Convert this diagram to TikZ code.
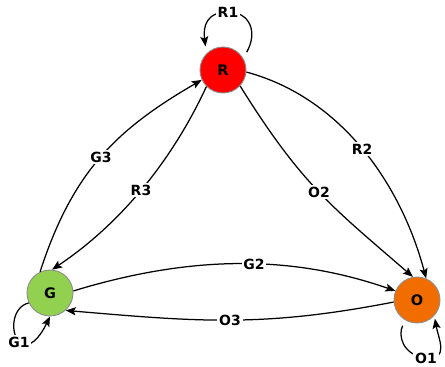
\documentclass[tikz,border=0pt]{standalone}
\usepackage{fontspec}
\setmainfont{DejaVu Sans}
\usetikzlibrary{arrows.meta}
\definecolor{rred}{HTML}{FF0000}
\definecolor{ggreen}{HTML}{92D050}
\definecolor{oorange}{HTML}{F26D00}
\definecolor{rim}{HTML}{8C8C8C}
\begin{document}
\begin{tikzpicture}[x=1pt,y=1pt,
  state/.style={circle,draw=rim,line width=0.9pt,minimum size=46pt,inner sep=0pt,
    font=\fontsize{14.5}{16}\selectfont\bfseries},
  lbl/.style={fill=white,inner sep=1.8pt,font=\fontsize{14}{16}\selectfont\bfseries},
  arr/.style={line width=1.25pt,-{Stealth[length=10pt,width=8pt,inset=2pt]}}]
\useasboundingbox (0,0) rectangle (445,367);
\node[state,fill=rred] (R) at (223,297) {R};
\node[state,fill=ggreen] (G) at (50,74) {G};
\node[state,fill=oorange] (O) at (417,67) {O};
% G3
\draw[arr] (G.115) .. controls (72.6,195.3) and (116.1,237.4) .. (R.205) node[lbl,midway] (lG3) {G3};
% R3
\draw[arr] (R.225) .. controls (171.0,204.1) and (118.8,142.0) .. (G.85) node[lbl,midway] (lR3) {R3};
% R2
\draw[arr] (R.355) .. controls (340.5,269.6) and (400.7,184) .. (O.67) node[lbl,midway] (lR2) {R2};
% O2
\draw[arr] (R.317) .. controls (301.5,182.6) and (331.6,160.4) .. (O.100) node[lbl,midway] (lO2) {O2};
% G2
\draw[arr] (G.5) .. controls (211.5,118.3) and (309.6,105.7) .. (O.157) node[lbl,midway] (lG2) {G2};
% O3
\draw[arr] (O.185) .. controls (262.4,39.4) and (197.8,45.3) .. (G.312) node[lbl,midway] (lO3) {O3};
% R1 loop
\draw[arr,shorten <=7pt,shorten >=7pt] (R.30) .. controls (258,335) and (250,355) .. (228,355) node[lbl] (lR1) {R1}
  .. controls (206,355) and (203,340) .. (R.135);
% G1 loop
\draw[arr] (G.205) .. controls (12,60) and (10,35) .. (19,25) node[lbl] (lG1) {G1}
  .. controls (30,17) and (40,30) .. (G.270);
% O1 loop
\draw[arr,shorten <=6pt,shorten >=3pt] (O.240) .. controls (398,32) and (402,12) .. (426,9) node[lbl] (lO1) {O1}
  .. controls (450,6) and (438,30) .. (O.318);
\end{tikzpicture}
\end{document}
